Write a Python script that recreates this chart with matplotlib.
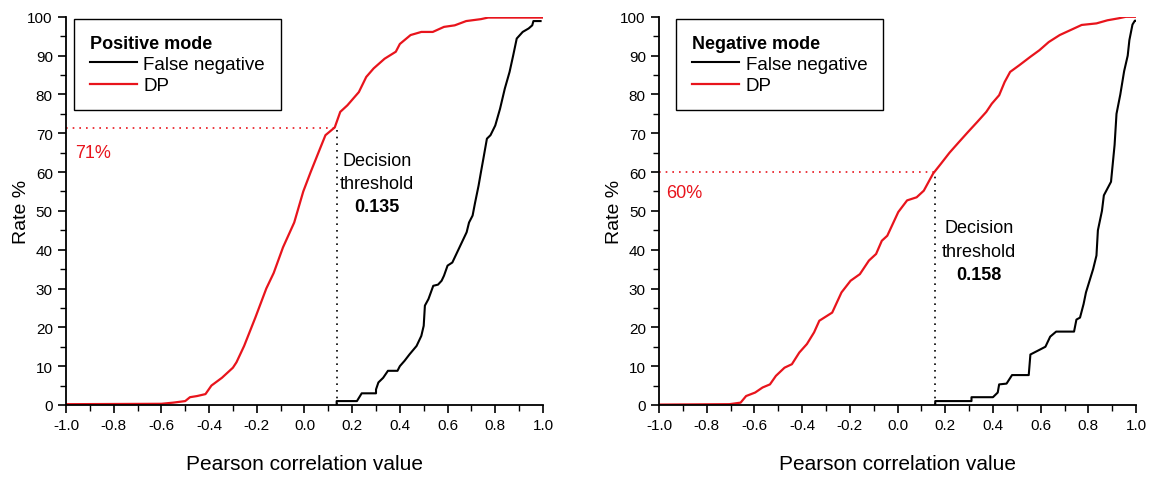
import matplotlib.pyplot as plt
from matplotlib.ticker import MultipleLocator

plt.rcParams['font.family'] = ['Liberation Sans', 'DejaVu Sans']

RED = '#e8141c'

# Positive mode: DP curve
pos_dp_x = [-1.0, -0.6, -0.55, -0.5, -0.48, -0.45, -0.415, -0.39, -0.346, -0.30, -0.285,
            -0.253, -0.206, -0.16, -0.129, -0.09, -0.043, -0.005, 0.026, 0.065, 0.088,
            0.127, 0.15, 0.18, 0.228, 0.259, 0.29, 0.336, 0.383, 0.40, 0.445, 0.49,
            0.538, 0.585, 0.63, 0.678, 0.74, 0.77, 1.0]
pos_dp_y = [0.2, 0.3, 0.6, 1.0, 2.0, 2.3, 2.8, 5.0, 7.0, 9.6, 11.0,
            15.2, 22.5, 30.0, 34.0, 40.6, 47.0, 55.0, 60.0, 66.0, 69.5,
            71.5, 75.5, 77.2, 80.6, 84.5, 86.7, 89.2, 91.0, 93.0, 95.3, 96.1,
            96.1, 97.4, 97.8, 98.9, 99.4, 99.8, 99.8]

# Positive mode: false negative curve
pos_fn_x = [0.135, 0.135, 0.22, 0.24, 0.30, 0.30, 0.31, 0.33, 0.35, 0.39, 0.40, 0.42,
            0.44, 0.47, 0.49, 0.50, 0.505, 0.52, 0.53, 0.54, 0.56, 0.575, 0.585, 0.60,
            0.62, 0.64, 0.66, 0.68, 0.69, 0.705, 0.715, 0.73, 0.74, 0.75, 0.765, 0.78,
            0.80, 0.82, 0.84, 0.86, 0.875, 0.89, 0.915, 0.94, 0.955, 0.96, 0.99]
pos_fn_y = [0.0, 1.0, 1.0, 3.0, 3.0, 4.0, 5.8, 7.0, 8.8, 8.8, 10.0, 11.4,
            13.0, 15.2, 17.8, 20.4, 25.6, 27.3, 29.0, 30.7, 31.0, 32.0, 33.3, 35.9,
            36.7, 39.3, 41.9, 44.5, 47.0, 48.8, 52.0, 56.5, 60.0, 63.4, 68.6, 69.5,
            72.0, 76.3, 81.5, 85.8, 90.0, 94.4, 96.1, 97.0, 97.8, 98.9, 98.9]

# Negative mode: DP curve
neg_dp_x = [-1.0, -0.705, -0.658, -0.635, -0.597, -0.566, -0.535, -0.51, -0.474, -0.443,
            -0.412, -0.38, -0.35, -0.328, -0.274, -0.235, -0.197, -0.158, -0.12, -0.09,
            -0.066, -0.043, 0.003, 0.04, 0.08, 0.11, 0.149, 0.18, 0.218, 0.257, 0.295,
            0.334, 0.372, 0.395, 0.426, 0.449, 0.472, 0.51, 0.557, 0.595, 0.634, 0.68,
            0.726, 0.772, 0.834, 0.88, 0.926, 0.957, 1.0]
neg_dp_y = [0.1, 0.2, 0.6, 2.3, 3.2, 4.5, 5.3, 7.5, 9.6, 10.5,
            13.5, 15.7, 18.7, 21.7, 23.8, 29.0, 32.0, 33.7, 37.2, 38.9,
            42.3, 43.6, 49.7, 52.7, 53.5, 55.2, 59.6, 62.0, 65.0, 67.7, 70.3,
            72.9, 75.5, 77.6, 79.8, 83.2, 85.8, 87.5, 89.7, 91.4, 93.5, 95.3,
            96.6, 97.9, 98.3, 99.1, 99.6, 100.0, 100.0]

# Negative mode: false negative curve
neg_fn_x = [0.158, 0.158, 0.31, 0.31, 0.40, 0.42, 0.426, 0.457, 0.48, 0.55, 0.557,
            0.595, 0.62, 0.64, 0.665, 0.74, 0.75, 0.765, 0.78, 0.79, 0.80, 0.82, 0.834,
            0.84, 0.857, 0.865, 0.895, 0.91, 0.918, 0.934, 0.95, 0.965, 0.972, 0.985,
            0.995, 1.0]
neg_fn_y = [0.0, 1.0, 1.0, 2.0, 2.0, 3.2, 5.3, 5.5, 7.7, 7.7, 13.0,
            14.2, 15.0, 17.6, 18.9, 18.9, 22.0, 22.5, 26.0, 29.0, 31.0, 35.0, 38.5,
            45.0, 50.0, 54.0, 57.5, 67.0, 75.0, 80.0, 86.0, 90.0, 94.0, 98.0,
            99.0, 99.0]

panels = [
    dict(rect=[0.0571, 0.156, 0.413, 0.807], title='Positive mode',
         dp=(pos_dp_x, pos_dp_y), fn=(pos_fn_x, pos_fn_y), thr=0.135, rate=71.3,
         rate_label='71%', rate_pos=(-0.96, 65.1), thr_pos=(0.305, 57),
         leg_anchor=(0.017, 0.995)),
    dict(rect=[0.5706, 0.156, 0.413, 0.807], title='Negative mode',
         dp=(neg_dp_x, neg_dp_y), fn=(neg_fn_x, neg_fn_y), thr=0.158, rate=60.0,
         rate_label='60%', rate_pos=(-0.97, 54.8), thr_pos=(0.342, 39.6),
         leg_anchor=(0.036, 0.995)),
]

fig = plt.figure(figsize=(11.55, 4.81), dpi=100)

for p in panels:
    ax = fig.add_axes(p['rect'])
    fn_line, = ax.plot(p['fn'][0], p['fn'][1], color='black', lw=1.5, label='False negative')
    dp_line, = ax.plot(p['dp'][0], p['dp'][1], color=RED, lw=1.6, label='DP')

    # threshold guide lines
    ax.plot([-1.0, p['thr']], [p['rate'], p['rate']], color=RED, lw=1.2, ls=(0, (1, 3)))
    ax.plot([p['thr'], p['thr']], [0, p['rate']], color='black', lw=1.2, ls=(0, (1, 3)))

    ax.text(p['rate_pos'][0], p['rate_pos'][1], p['rate_label'], color=RED,
            fontsize=13, ha='left', va='center')
    tx, ty = p['thr_pos']
    ax.text(tx, ty + 6, 'Decision', fontsize=13, ha='center', va='center')
    ax.text(tx, ty, 'threshold', fontsize=13, ha='center', va='center')
    ax.text(tx, ty - 6, '%.3f' % p['thr'], fontsize=13, fontweight='bold',
            ha='center', va='center')

    ax.set_xlim(-1.0, 1.0)
    ax.set_ylim(0, 100)
    ax.xaxis.set_major_locator(MultipleLocator(0.2))
    ax.xaxis.set_minor_locator(MultipleLocator(0.1))
    ax.yaxis.set_major_locator(MultipleLocator(10))
    ax.yaxis.set_minor_locator(MultipleLocator(5))
    ax.xaxis.set_major_formatter(plt.FuncFormatter(lambda v, _: '%.1f' % v))
    ax.tick_params(which='major', direction='out', length=6, width=1.2, labelsize=11)
    ax.tick_params(which='minor', direction='out', length=4, width=1.0)
    ax.spines['top'].set_visible(False)
    ax.spines['right'].set_visible(False)
    for s in ('left', 'bottom'):
        ax.spines[s].set_linewidth(1.3)

    ax.set_xlabel('Pearson correlation value', fontsize=15, labelpad=16)
    ax.set_ylabel('Rate %', fontsize=14, labelpad=-2)

    leg = ax.legend(handles=[fn_line, dp_line], title=p['title'], loc='upper left',
                    bbox_to_anchor=p['leg_anchor'], fontsize=13.5, fancybox=False,
                    edgecolor='black', framealpha=1, handlelength=2.5,
                    borderpad=0.85, labelspacing=0.22, handletextpad=0.35,
                    borderaxespad=0)
    leg.get_title().set_fontweight('bold')
    leg.get_title().set_fontsize(13)
    leg._legend_box.align = 'left'
    leg.get_frame().set_linewidth(1.0)

plt.savefig('out.png', dpi=100)
